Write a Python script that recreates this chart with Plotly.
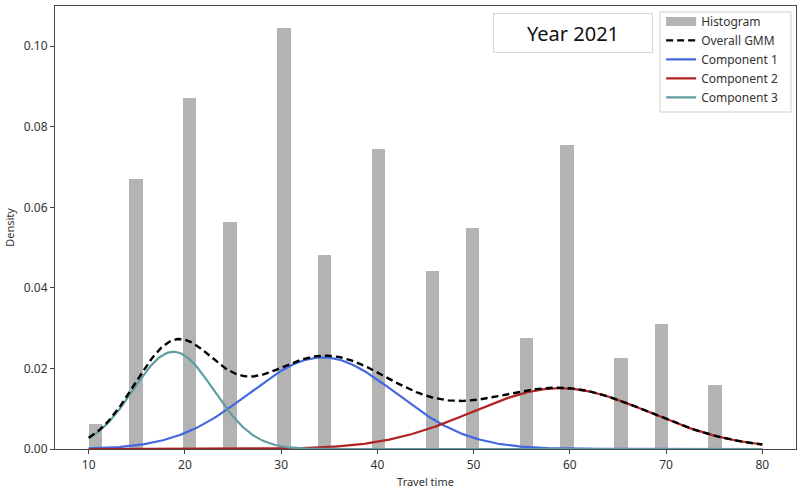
import numpy as np
import plotly.graph_objects as go

# Histogram (density), bins of width 1.4 from 10 to 80
bin_left = [10.0, 14.2, 19.8, 24.0, 29.6, 33.8, 39.4, 45.0, 49.2, 54.8, 59.0, 64.6, 68.8, 74.4]
density = [0.0061, 0.0670, 0.0872, 0.0564, 0.1046, 0.0481, 0.0744, 0.0442, 0.0548, 0.0275,
           0.0754, 0.0225, 0.0310, 0.0160]
bin_width = 1.4

# GMM component parameters (weight, mean, std)
comp_names = ["Component 1", "Component 2", "Component 3"]
comp_weights = [0.436, 0.348, 0.2536]
comp_means = [34.3, 59.0, 18.8]
comp_stds = [7.65, 9.2, 4.19]
comp_colors = ["#4169e1", "#b22222", "#5f9ea0"]

x_min, x_max = 10, 80
xs = np.linspace(x_min, x_max, 400)


def gauss(x, w, m, s):
    return w * np.exp(-0.5 * ((x - m) / s) ** 2) / (s * np.sqrt(2 * np.pi))


comps = [gauss(xs, w, m, s) for w, m, s in zip(comp_weights, comp_means, comp_stds)]
overall = np.sum(comps, axis=0)

hist_color = "#b3b3b3"
fig = go.Figure()
fig.add_trace(go.Bar(
    x=bin_left, y=density, width=bin_width, offset=0,
    marker=dict(color=hist_color, line=dict(width=0)),
    name="Histogram", showlegend=False,
))
# legend proxy for the histogram (wide rectangle swatch)
fig.add_trace(go.Scatter(x=[None], y=[None], mode="lines", name="Histogram",
                         line=dict(color=hist_color, width=9), legendrank=1))
for i, (name, col) in enumerate(zip(comp_names, comp_colors)):
    fig.add_trace(go.Scatter(x=xs, y=comps[i], mode="lines", name=name,
                             line=dict(color=col, width=2.2), legendrank=3 + i))
fig.add_trace(go.Scatter(x=xs, y=overall, mode="lines", name="Overall GMM",
                         line=dict(color="black", width=2.4, dash="7px,4px"), legendrank=2))

font_family = "Noto Sans, Open Sans, DejaVu Sans"
fig.update_layout(
    width=800, height=492,
    margin=dict(l=55, r=4, t=6, b=43),
    plot_bgcolor="white", paper_bgcolor="white",
    font=dict(family=font_family, size=12, color="#333333"),
    bargap=0,
    showlegend=True,
    legend=dict(
        x=0.818, y=0.998, xanchor="left", yanchor="top",
        bgcolor="rgba(0,0,0,0)", borderwidth=0,
        font=dict(size=12, color="#333333"),
        tracegroupgap=0, itemwidth=30,
    ),
    shapes=[dict(
        type="rect", xref="paper", yref="paper",
        x0=0.8165, x1=0.9933, y0=0.7607, y1=0.9865,
        line=dict(color="#d0d0d0", width=1), fillcolor="white", layer="below",
    )],
    annotations=[dict(
        text="Year 2021", x=0.699, y=0.939, xref="paper", yref="paper",
        xanchor="center", yanchor="middle", showarrow=False,
        font=dict(size=20, color="#111111", family=font_family),
        bordercolor="#d8d8d8", borderwidth=1, borderpad=4,
        bgcolor="white", width=150, height=30,
    )],
)
fig.update_xaxes(
    range=[6.5, 83.5], tickmode="array", tickvals=[10, 20, 30, 40, 50, 60, 70, 80],
    showline=True, linecolor="#444444", linewidth=1.2, mirror=True,
    ticks="outside", ticklen=4, tickcolor="#444444",
    showgrid=False, zeroline=False,
    tickfont=dict(size=12),
    title=dict(text="Travel time", font=dict(size=11), standoff=6),
)
fig.update_yaxes(
    range=[0, 0.11], tickmode="array", tickvals=[0, 0.02, 0.04, 0.06, 0.08, 0.10],
    tickformat=".2f",
    showline=True, linecolor="#444444", linewidth=1.2, mirror=True,
    ticks="outside", ticklen=4, tickcolor="#444444",
    showgrid=False, zeroline=False,
    tickfont=dict(size=12),
    title=dict(text="Density", font=dict(size=11), standoff=6),
)

fig.write_html("out.html")
